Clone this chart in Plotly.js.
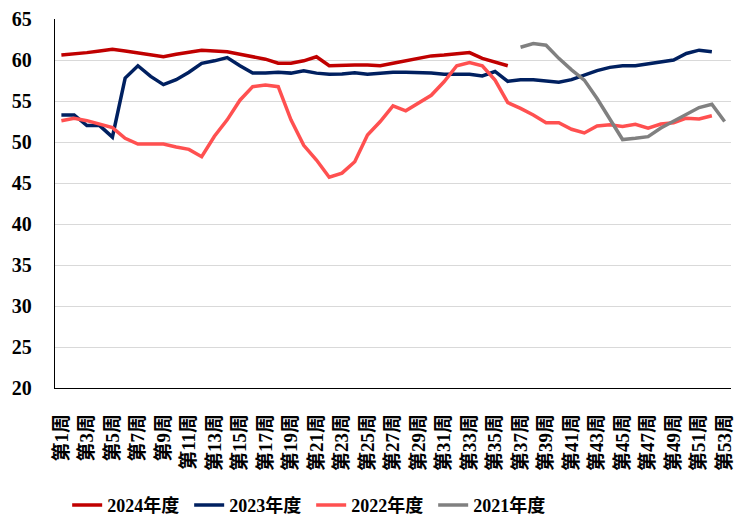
<!DOCTYPE html>
<html>
<head>
<meta charset="utf-8">
<script src="https://cdn.plot.ly/plotly-3.0.1.min.js"></script>
<style>html,body{margin:0;padding:0;background:#fff;}#chart{width:738px;height:517px;}</style>
</head>
<body>
<div id="chart"></div>
<script>
var weeks = ["第1周","第2周","第3周","第4周","第5周","第6周","第7周","第8周","第9周","第10周",
  "第11周","第12周","第13周","第14周","第15周","第16周","第17周","第18周","第19周","第20周",
  "第21周","第22周","第23周","第24周","第25周","第26周","第27周","第28周","第29周","第30周",
  "第31周","第32周","第33周","第34周","第35周","第36周","第37周","第38周","第39周","第40周",
  "第41周","第42周","第43周","第44周","第45周","第46周","第47周","第48周","第49周","第50周",
  "第51周","第52周","第53周"];
var tickLabels = ["第1周","第3周","第5周","第7周","第9周","第11周","第13周","第15周","第17周","第19周",
  "第21周","第23周","第25周","第27周","第29周","第31周","第33周","第35周","第37周","第39周",
  "第41周","第43周","第45周","第47周","第49周","第51周","第53周"];

var y2024 = [60.6,60.7,60.9,61.1,61.3,61.1,60.9,60.6,60.4,60.7,
  61.0,61.2,61.1,61.0,60.7,60.4,60.1,59.6,59.6,59.9,
  60.4,59.3,59.4,59.4,59.4,59.3,59.6,59.9,60.3,60.5,
  60.6,60.7,60.9,60.2,59.7,59.3];
var y2023 = [53.3,53.3,52.0,52.0,50.6,57.8,59.3,58.0,57.0,57.6,
  58.5,59.6,59.9,60.3,59.3,58.4,58.4,58.5,58.4,58.7,
  58.4,58.25,58.3,58.45,58.25,58.4,58.5,58.5,58.5,58.4,
  58.25,58.25,58.25,58.05,58.6,57.4,57.6,57.6,57.5,57.3,
  57.6,58.2,58.7,59.1,59.3,59.3,59.5,59.7,60.0,60.8,
  61.2,61.0];
var y2022 = [52.6,52.9,52.6,52.2,51.75,50.45,49.75,49.75,49.75,49.4,
  49.1,48.2,50.7,52.7,55.1,56.75,56.95,56.75,52.7,49.6,
  47.8,45.7,46.2,47.6,50.85,52.5,54.4,53.8,54.7,55.7,
  57.35,59.3,59.7,59.3,57.55,54.8,54.1,53.3,52.35,52.35,
  51.55,51.1,51.95,52.1,51.9,52.15,51.7,52.2,52.35,52.9,
  52.8,53.2];
var weeks2021 = ["第37周","第38周","第39周","第40周","第41周","第42周","第43周","第44周","第45周",
  "第46周","第47周","第48周","第49周","第50周","第51周","第52周","第53周"];
var y2021 = [61.55,62.0,61.8,60.2,58.8,57.55,55.3,52.7,50.3,
  50.45,50.65,51.7,52.5,53.3,54.2,54.6,52.5];

var seriesNames = ["2024年度","2023年度","2022年度","2021年度"];
var colors = ["#C00000","#002060","#FF5050","#808080"];

var fam = "'Liberation Serif','Times New Roman','Noto Sans CJK SC',serif";
function tr(x, y, i) {
  return {x: x, y: y, type: "scatter", mode: "lines", name: seriesNames[i],
    line: {color: colors[i], width: 3.5}, hoverinfo: "skip"};
}
var data = [
  tr(weeks.slice(0, y2024.length), y2024, 0),
  tr(weeks.slice(0, y2023.length), y2023, 1),
  tr(weeks.slice(0, y2022.length), y2022, 2),
  tr(weeks2021, y2021, 3)
];
var layout = {
  width: 738, height: 517,
  margin: {l: 55, r: 7, t: 19, b: 129, autoexpand: false},
  paper_bgcolor: "#fff", plot_bgcolor: "#fff",
  showlegend: true,
  legend: {orientation: "h", x: 0.018, xanchor: "left", y: -0.318, yanchor: "middle",
    font: {family: fam, size: 18, color: "#000", weight: "bold"},
    entrywidth: 77, entrywidthmode: "pixels", tracegroupgap: 0, itemwidth: 30},
  xaxis: {type: "category", categoryorder: "array", categoryarray: weeks,
    range: [-0.5, 52.5], tickmode: "array", tickvals: tickLabels, ticktext: tickLabels,
    tickangle: -90, showgrid: false, showline: true, linecolor: "#000", linewidth: 1.3,
    ticks: "", ticklabelstandoff: 17, automargin: false,
    tickfont: {family: fam, size: 19, color: "#000", weight: "bold"}, fixedrange: true},
  yaxis: {range: [20, 65], dtick: 5, tick0: 20, showgrid: true, gridcolor: "#d9d9d9", gridwidth: 1,
    showline: true, linecolor: "#000", linewidth: 1.3, zeroline: false, ticks: "",
    ticklabelstandoff: 18, automargin: false,
    tickfont: {family: fam, size: 20, color: "#000", weight: "bold"}, fixedrange: true}
};
Plotly.newPlot("chart", data, layout, {staticPlot: true});
</script>
</body>
</html>
